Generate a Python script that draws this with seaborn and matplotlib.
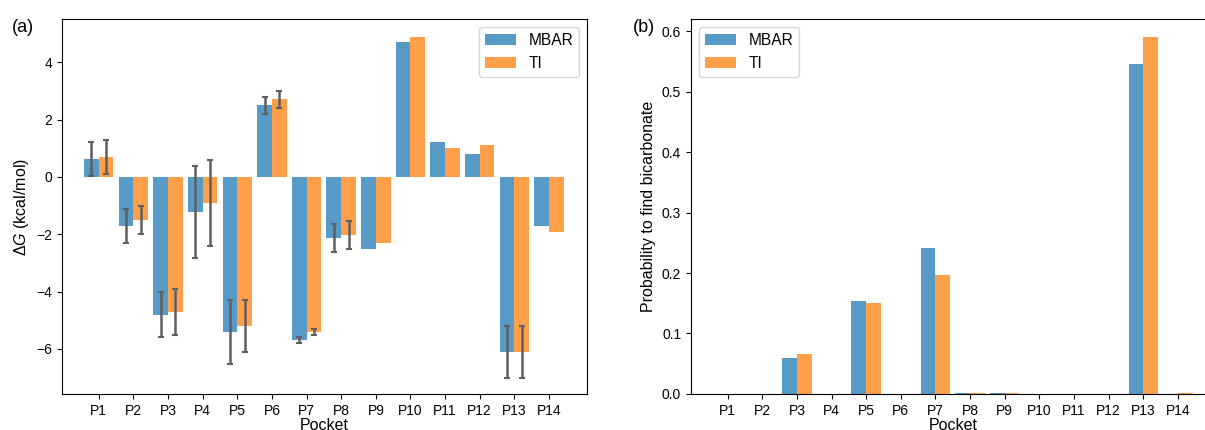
import pandas as pd
import matplotlib
matplotlib.use("Agg")
import matplotlib.pyplot as plt
import seaborn as sns

plt.rcParams["font.family"] = ["Liberation Sans", "DejaVu Sans"]
plt.rcParams["mathtext.fontset"] = "custom"
plt.rcParams["mathtext.rm"] = "Liberation Sans"
plt.rcParams["mathtext.it"] = "Liberation Sans:italic"

# %% data
pockets = [f"P{i}" for i in range(1, 15)]
methods = ["MBAR", "TI"]

dg_mbar = [0.62, -1.71, -4.80, -1.22, -5.41, 2.50, -5.69, -2.13, -2.51, 4.70, 1.21, 0.79, -6.10, -1.71]
dg_ti = [0.70, -1.50, -4.71, -0.91, -5.20, 2.71, -5.41, -2.02, -2.30, 4.87, 1.00, 1.10, -6.10, -1.92]
nan = float("nan")
err_mbar = [0.6, 0.6, 0.8, 1.6, 1.1, 0.3, 0.09, 0.5, nan, nan, nan, nan, 0.9, nan]
err_ti = [0.6, 0.5, 0.8, 1.5, 0.9, 0.3, 0.09, 0.5, nan, nan, nan, nan, 0.9, nan]

prob_mbar = [0.0, 0.0, 0.060, 0.0, 0.154, 0.0, 0.242, 0.001, 0.001, 0.0, 0.0, 0.0, 0.546, 0.0]
prob_ti = [0.0, 0.0, 0.0667, 0.0, 0.151, 0.0, 0.196, 0.001, 0.001, 0.0, 0.0, 0.0, 0.591, 0.001]

colores = ["#5799c7", "#ff9f4a"]

df_dg = pd.DataFrame({
    "pocket": pockets * 2,
    "method": ["MBAR"] * 14 + ["TI"] * 14,
    "dG": dg_mbar + dg_ti,
})
df_prob = pd.DataFrame({
    "pocket": pockets * 2,
    "method": ["MBAR"] * 14 + ["TI"] * 14,
    "prob": prob_mbar + prob_ti,
})

fig = plt.figure(figsize=(12.05, 4.3), dpi=100)
ax1 = fig.add_axes([0.0515, 0.084, 0.4357, 0.871])
ax2 = fig.add_axes([0.5734, 0.084, 0.4357, 0.871])

# %% (a) energia livre
sns.barplot(data=df_dg, x="pocket", y="dG", hue="method", palette=colores,
            saturation=1, width=0.85, errorbar=None, linewidth=0, ax=ax1)

# barras de erro no centro de cada barra
for container, erros in zip(ax1.containers, [err_mbar, err_ti]):
    xs = [b.get_x() + b.get_width() / 2 for b in container]
    ys = [b.get_height() for b in container]
    ax1.errorbar(xs, ys, yerr=erros, fmt="none", ecolor="#5f5f5f",
                 elinewidth=1.8, capsize=2, capthick=1.5)

ax1.set_xlim(-1.06, 14.1)
ax1.set_ylim(-7.57, 5.5)
ax1.set_xlabel("Pocket", fontsize=11.5, labelpad=0.5)
ax1.set_ylabel(r"$\Delta G$ (kcal/mol)", fontsize=11.5)
ax1.tick_params(labelsize=10)
sns.move_legend(ax1, "upper right", title=None, fontsize=11.2)

# %% (b) probabilidade
sns.barplot(data=df_prob, x="pocket", y="prob", hue="method", palette=colores,
            saturation=1, width=0.85, errorbar=None, linewidth=0, ax=ax2)
ax2.set_xlim(-1.06, 14.1)
ax2.set_ylim(0, 0.62)
ax2.set_xlabel("Pocket", fontsize=11.5, labelpad=0.5)
ax2.set_ylabel("Probability to find bicarbonate", fontsize=11.5)
ax2.tick_params(labelsize=10)
sns.move_legend(ax2, "upper left", title=None, fontsize=11.2)

fig.text(12 / 1205, 1 - 27 / 430, "(a)", fontsize=13, va="center")
fig.text(633 / 1205, 1 - 27 / 430, "(b)", fontsize=13, va="center")

fig.savefig("out.png", dpi=100)
